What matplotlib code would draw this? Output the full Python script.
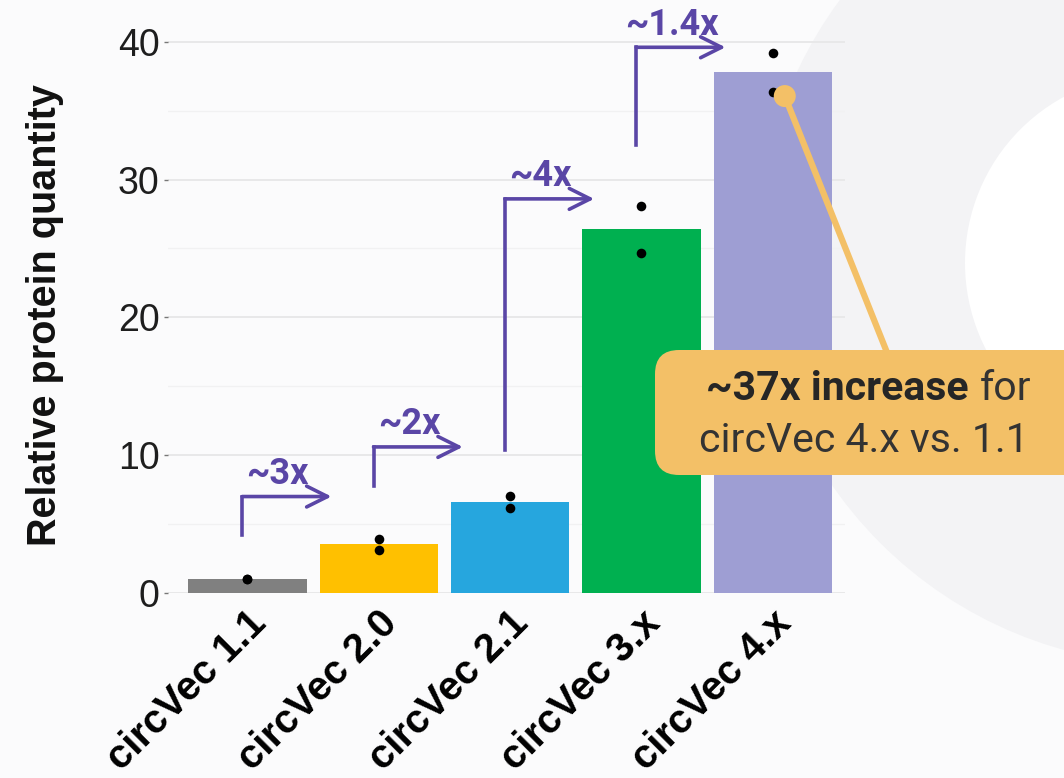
import matplotlib.pyplot as plt
import numpy as np
from matplotlib.patches import Circle, FancyBboxPatch
from matplotlib.transforms import ScaledTranslation

# data
labels = ['circVec 1.1', 'circVec 2.0', 'circVec 2.1', 'circVec 3.x', 'circVec 4.x']
means = [1.0, 3.55, 6.6, 26.4, 37.8]
rep_a = [1.0, 3.95, 7.05, 28.1, 39.2]
rep_b = [1.0, 3.15, 6.15, 24.7, 36.35]
bar_colors = ['#808080', '#ffc000', '#26a6de', '#00b050', '#9e9ed3']

# fold-change arrows between neighbouring vectors
fold_labels = ['~3x', '~2x', '~4x', '~1.4x']
arrow_lo = [4.2, 7.8, 10.4, 32.5]
arrow_hi = [7.0, 10.6, 28.6, 39.6]

purple = '#5a46a6'
orange = '#f3c067'
W, H = 1064, 778

fig = plt.figure(figsize=(W / 100, H / 100), dpi=100, facecolor='#fbfbfc')

# background decoration (pixel coords)
bg = fig.add_axes([0, 0, 1, 1], zorder=0)
bg.set_xlim(0, W); bg.set_ylim(H, 0); bg.axis('off')
bg.add_patch(Circle((1175, 248), 417, color='#f3f3f5', lw=0))
bg.add_patch(Circle((1154, 263), 189, color='white', lw=0))

ax = fig.add_axes([168 / W, (H - 593) / H, 677 / W, 565 / H], zorder=1)
ax.patch.set_alpha(0)
x = np.arange(len(labels))
ax.bar(x, means, width=0.9, color=bar_colors, zorder=2)
ax.scatter(x, rep_a, s=48, color='black', zorder=3, lw=0)
ax.scatter(x, rep_b, s=48, color='black', zorder=3, lw=0)

ax.set_xlim(-0.605, 4.55)
ax.set_ylim(0, 41)
ax.set_yticks([0, 10, 20, 30, 40])
ax.set_yticks([5, 15, 25, 35], minor=True)
ax.grid(True, axis='y', which='major', color='#e8e8e9', lw=1.4)
ax.grid(True, axis='y', which='minor', color='#f1f1f2', lw=1.0)
ax.set_axisbelow(True)
for s in ax.spines.values():
    s.set_visible(False)
ax.tick_params(axis='y', which='major', length=3, width=1, color='#777777', pad=3,
               labelsize=27, labelcolor='#1e1e1e')
ax.tick_params(axis='y', which='minor', length=0)
ax.tick_params(axis='x', length=0, pad=4)
for t in ax.get_yticklabels():
    t.set_family('Liberation Sans')

ax.set_xticks(x)
ax.set_xticklabels(labels, rotation=45, ha='right', va='top', rotation_mode='anchor',
                   fontsize=29, fontweight='bold', family='Liberation Sans', color='black')
for t in ax.get_xticklabels():
    t.set_transform(t.get_transform() + ScaledTranslation(-0.01, -0.05, fig.dpi_scale_trans))

fig.text(45 / W, 1 - 315 / H, 'Relative protein quantity', rotation=90, ha='center',
         va='center', fontsize=28.5, fontweight='bold', family='Liberation Sans', color='#111111')

# elbow arrows
for i in range(len(fold_labels)):
    xv = i - 0.04
    ax.plot([xv, xv], [arrow_lo[i], arrow_hi[i]], color=purple, lw=2.6,
            solid_capstyle='projecting', zorder=4, clip_on=False)
    ax.annotate('', xy=(i + 0.64, arrow_hi[i]), xytext=(xv, arrow_hi[i]),
                arrowprops=dict(arrowstyle='->,head_length=1.5,head_width=0.75',
                                color=purple, lw=2.6, shrinkA=0, shrinkB=0,
                                mutation_scale=10),
                zorder=4, annotation_clip=False)
    ax.annotate(fold_labels[i], xy=(i + 0.23, arrow_hi[i]), xytext=(0, 9),
                textcoords='offset points', ha='center', va='baseline',
                fontsize=26, fontweight='bold', family='Roboto', color=purple,
                zorder=4, annotation_clip=False)

# callout
ov = fig.add_axes([0, 0, 1, 1], zorder=3)
ov.set_xlim(0, W); ov.set_ylim(H, 0); ov.axis('off')
px, py = ax.transData.transform((4, rep_b[4]))
px, py = px + 12, H - py + 4
ov.plot([px, 890], [py, 360], color=orange, lw=4.5, solid_capstyle='round')
ov.add_patch(Circle((px, py), 11, color=orange, lw=0))
ov.add_patch(FancyBboxPatch((655, 350), 460, 125,
                            boxstyle='round,pad=0,rounding_size=24',
                            fc=orange, ec='none'))
ov.text(968, 400, '~37x increase', ha='right', va='baseline', fontsize=29.5,
        fontweight='bold', family='Roboto', color='#262626')
ov.text(980, 400, 'for', ha='left', va='baseline', fontsize=29.5,
        family='Roboto', color='#333333')
ov.text(864, 452, 'circVec 4.x vs. 1.1', ha='center', va='baseline', fontsize=29.5,
        family='Roboto', color='#333333')

fig.savefig('out.png', dpi=100, facecolor=fig.get_facecolor())
